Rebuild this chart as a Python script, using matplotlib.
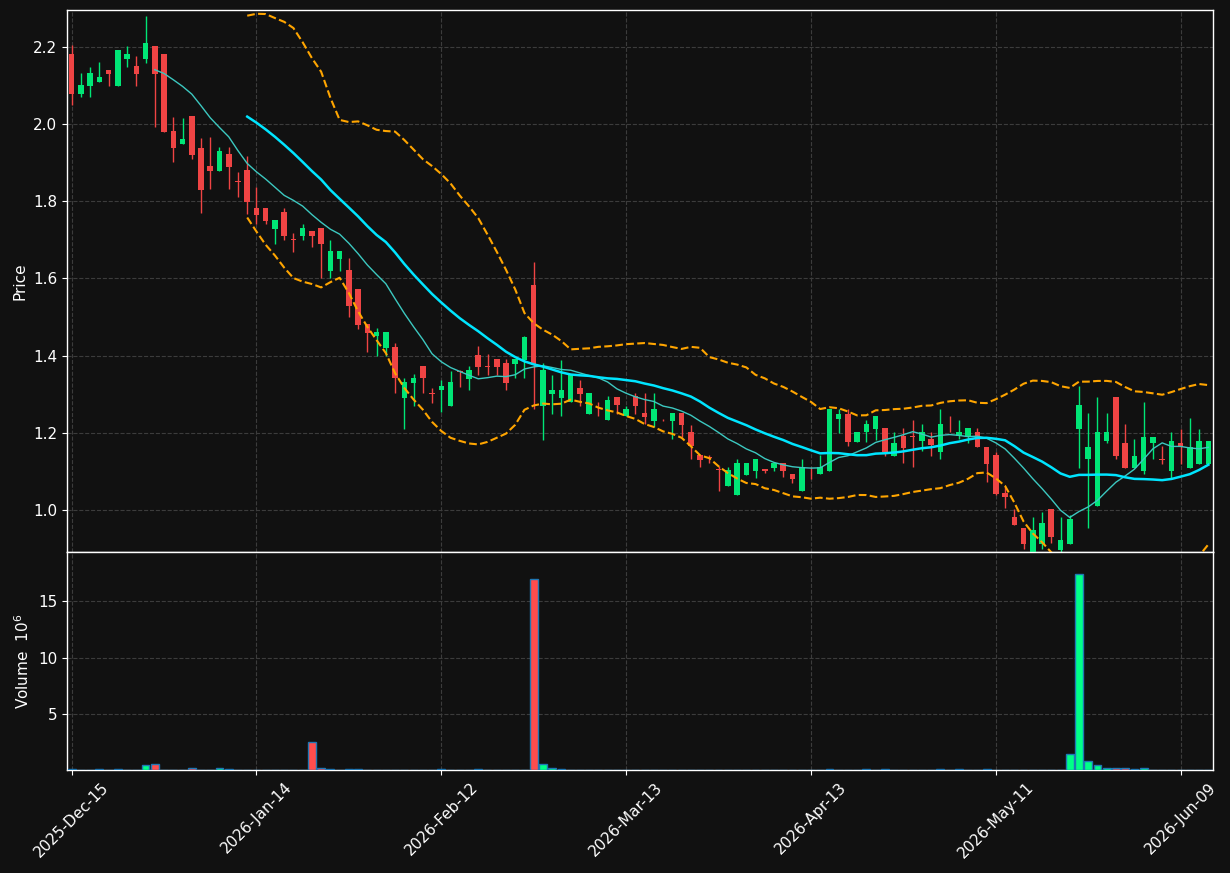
import numpy as np
import pandas as pd
import matplotlib
matplotlib.use("Agg")
import matplotlib.pyplot as plt

# ---------------- data ----------------
opens = [2.182, 2.079, 2.100, 2.110, 2.140, 2.100, 2.170, 2.151, 2.170, 2.203,
         2.182, 1.982, 1.949, 2.021, 1.938, 1.892, 1.879, 1.923, 1.852, 1.881,
         1.783, 1.783, 1.729, 1.772, 1.702, 1.710, 1.723, 1.731, 1.620, 1.651,
         1.622, 1.572, 1.483, 1.450, 1.421, 1.423, 1.291, 1.330, 1.373, 1.302,
         1.310, 1.270, 1.361, 1.340, 1.401, 1.372, 1.391, 1.381, 1.378, 1.389,
         1.583, 1.270, 1.300, 1.291, 1.281, 1.316, 1.250, 1.273, 1.234, 1.293,
         1.244, 1.295, 1.251, 1.231, 1.234, 1.230, 1.251, 1.202, 1.143, 1.136,
         1.106, 1.061, 1.040, 1.091, 1.102, 1.105, 1.109, 1.121, 1.093, 1.050,
         1.094, 1.092, 1.102, 1.237, 1.249, 1.177, 1.201, 1.210, 1.212, 1.140,
         1.192, 1.191, 1.180, 1.183, 1.151, 1.224, 1.191, 1.191, 1.202, 1.164,
         1.142, 1.044, 0.981, 0.953, 0.890, 0.911, 1.002, 0.895, 0.911, 1.210,
         1.131, 1.011, 1.179, 1.292, 1.173, 1.110, 1.101, 1.173, 1.131, 1.101,
         1.173, 1.110, 1.120, 1.120]
highs = [2.205, 2.132, 2.149, 2.160, 2.140, 2.192, 2.203, 2.177, 2.280, 2.203,
         2.182, 2.019, 2.015, 2.021, 1.963, 1.968, 1.941, 1.941, 1.875, 1.917,
         1.838, 1.783, 1.752, 1.782, 1.717, 1.741, 1.723, 1.731, 1.701, 1.671,
         1.652, 1.572, 1.483, 1.472, 1.462, 1.432, 1.342, 1.352, 1.373, 1.315,
         1.336, 1.361, 1.362, 1.373, 1.426, 1.405, 1.391, 1.391, 1.391, 1.451,
         1.642, 1.380, 1.351, 1.390, 1.352, 1.338, 1.302, 1.281, 1.296, 1.293,
         1.270, 1.302, 1.302, 1.302, 1.236, 1.251, 1.251, 1.219, 1.143, 1.143,
         1.113, 1.111, 1.131, 1.121, 1.131, 1.105, 1.121, 1.121, 1.093, 1.131,
         1.111, 1.142, 1.261, 1.261, 1.261, 1.202, 1.233, 1.244, 1.212, 1.202,
         1.212, 1.233, 1.223, 1.201, 1.261, 1.244, 1.233, 1.212, 1.212, 1.164,
         1.151, 1.061, 1.002, 0.953, 0.981, 0.995, 1.002, 0.981, 0.986, 1.321,
         1.251, 1.292, 1.251, 1.292, 1.223, 1.184, 1.280, 1.190, 1.165, 1.202,
         1.211, 1.238, 1.211, 1.180]
lows = [2.050, 2.070, 2.070, 2.110, 2.100, 2.100, 2.149, 2.100, 2.159, 1.992,
        1.981, 1.901, 1.949, 1.911, 1.771, 1.831, 1.879, 1.831, 1.810, 1.768,
        1.741, 1.741, 1.690, 1.701, 1.669, 1.701, 1.681, 1.602, 1.602, 1.620,
        1.501, 1.470, 1.410, 1.400, 1.400, 1.302, 1.209, 1.270, 1.302, 1.276,
        1.255, 1.270, 1.320, 1.311, 1.350, 1.350, 1.350, 1.311, 1.341, 1.341,
        1.262, 1.181, 1.250, 1.243, 1.281, 1.270, 1.250, 1.243, 1.234, 1.250,
        1.244, 1.250, 1.224, 1.214, 1.230, 1.184, 1.189, 1.131, 1.111, 1.121,
        1.050, 1.061, 1.040, 1.091, 1.082, 1.097, 1.102, 1.085, 1.071, 1.050,
        1.081, 1.092, 1.102, 1.200, 1.166, 1.177, 1.177, 1.182, 1.141, 1.140,
        1.121, 1.111, 1.152, 1.141, 1.131, 1.202, 1.183, 1.173, 1.162, 1.073,
        1.040, 1.004, 0.961, 0.900, 0.880, 0.900, 0.914, 0.890, 0.911, 1.110,
        0.953, 1.011, 1.173, 1.131, 1.110, 1.110, 1.093, 1.131, 1.120, 1.084,
        1.120, 1.110, 1.120, 1.120]
closes = [2.079, 2.101, 2.133, 2.122, 2.131, 2.192, 2.182, 2.131, 2.210, 2.131,
          1.981, 1.939, 1.962, 1.921, 1.830, 1.879, 1.930, 1.890, 1.850, 1.799,
          1.765, 1.750, 1.752, 1.710, 1.700, 1.730, 1.710, 1.690, 1.671, 1.671,
          1.529, 1.480, 1.459, 1.462, 1.462, 1.341, 1.332, 1.342, 1.341, 1.300,
          1.322, 1.331, 1.358, 1.362, 1.371, 1.370, 1.371, 1.330, 1.391, 1.448,
          1.376, 1.362, 1.311, 1.311, 1.352, 1.300, 1.302, 1.271, 1.284, 1.271,
          1.261, 1.270, 1.240, 1.261, 1.232, 1.251, 1.221, 1.165, 1.130, 1.134,
          1.104, 1.104, 1.121, 1.121, 1.131, 1.101, 1.121, 1.102, 1.081, 1.111,
          1.092, 1.111, 1.261, 1.249, 1.177, 1.202, 1.223, 1.244, 1.150, 1.173,
          1.161, 1.189, 1.201, 1.168, 1.223, 1.222, 1.202, 1.212, 1.162, 1.119,
          1.041, 1.033, 0.961, 0.911, 0.948, 0.966, 0.929, 0.922, 0.976, 1.272,
          1.162, 1.202, 1.202, 1.141, 1.110, 1.141, 1.190, 1.190, 1.129, 1.180,
          1.162, 1.162, 1.180, 1.180]
volume_millions = [0.05, 0, 0, 0.05, 0, 0.05, 0, 0, 0.44, 0.50,
                   0.03, 0.03, 0.03, 0.15, 0.03, 0.03, 0.15, 0.05, 0, 0.03,
                   0.03, 0, 0, 0.03, 0.03, 0, 2.46, 0.15, 0.05, 0,
                   0.05, 0.05, 0, 0, 0, 0.03, 0.03, 0, 0, 0,
                   0.05, 0, 0, 0, 0.05, 0, 0, 0, 0, 0,
                   17.0, 0.50, 0.15, 0.05, 0, 0, 0, 0, 0, 0,
                   0, 0, 0, 0, 0, 0.03, 0.03, 0.03, 0, 0,
                   0, 0, 0, 0, 0, 0, 0, 0, 0, 0,
                   0, 0, 0.05, 0, 0.03, 0, 0.05, 0, 0.05, 0,
                   0, 0, 0, 0, 0.05, 0, 0.05, 0, 0, 0.05,
                   0, 0, 0, 0, 0, 0, 0, 0, 1.39, 17.46,
                   0.77, 0.41, 0.15, 0.15, 0.15, 0.05, 0.15, 0.03, 0.03, 0.03,
                   0.03, 0.03, 0.03, 0]
tick_positions = [0, 20, 40, 60, 80, 100, 120]
tick_labels = ["2025-Dec-15", "2026-Jan-14", "2026-Feb-12", "2026-Mar-13",
               "2026-Apr-13", "2026-May-11", "2026-Jun-09"]
price_ticks = [1.0, 1.2, 1.4, 1.6, 1.8, 2.0, 2.2]
volume_ticks = [5, 10, 15]

# ---------------- styling ----------------
BG = "#111111"
UP = "#00e676"
DOWN = "#ef4444"
VUP = "#00ff88"
VDOWN = "#ff4d4d"
GRID = "#3c3c3c"

df = pd.DataFrame({"open": opens, "high": highs, "low": lows,
                   "close": closes, "volume": volume_millions})
x = np.arange(len(df))
ma10 = df["close"].rolling(10).mean()
ma20 = df["close"].rolling(20).mean()
sd20 = df["close"].rolling(20).std(ddof=0)
upper = ma20 + 2 * sd20
lower = ma20 - 2 * sd20
up = df["close"] >= df["open"]

fig = plt.figure(figsize=(12.3, 8.73), dpi=100, facecolor=BG)
ax = fig.add_axes([67 / 1230, 1 - 552 / 873, (1213 - 67) / 1230, (552 - 10) / 873])
axv = fig.add_axes([67 / 1230, 1 - 770 / 873, (1213 - 67) / 1230, (770 - 552) / 873],
                   sharex=ax)

for a in (ax, axv):
    a.set_facecolor(BG)
    for s in a.spines.values():
        s.set_color("white")
        s.set_linewidth(1.0)
    a.tick_params(colors="white", labelsize=11)
    a.grid(True, color=GRID, linestyle="--", linewidth=0.8)
    a.set_axisbelow(True)

# candles
cols = np.where(up, UP, DOWN)
ax.vlines(x, df["low"], df["high"], colors=cols, linewidth=1.0, zorder=2)
body_h = (df["close"] - df["open"]).abs().clip(lower=0.0015)
body_b = np.minimum(df["open"], df["close"])
ax.bar(x, body_h, bottom=body_b, width=0.6, color=cols, linewidth=0, zorder=3)

# overlays
ax.plot(x, ma10, color="#3cc8c0", linewidth=1.0, zorder=4)
ax.plot(x, ma20, color="#00e5ff", linewidth=1.8, zorder=4)
ax.plot(x, upper, color="#ffa500", linewidth=1.5, linestyle="--", zorder=4)
ax.plot(x, lower, color="#ffa500", linewidth=1.5, linestyle="--", zorder=4)

ax.set_ylim(0.891, 2.296)
ax.set_yticks(price_ticks)
ax.set_yticklabels([f"{v:.1f}" for v in price_ticks])
ax.set_ylabel("Price", color="white", fontsize=11)
ax.tick_params(axis="x", labelbottom=False)

# volume
vcols = np.where(up, VUP, VDOWN)
axv.bar(x, df["volume"], width=0.85, color=vcols, edgecolor="#1f77b4",
        linewidth=1.0, zorder=3)
axv.set_ylim(0, 19.4)
axv.set_yticks(volume_ticks)
axv.set_ylabel("Volume  $10^{6}$", color="white", fontsize=11)

axv.set_xlim(-0.5, 123.5)
axv.set_xticks(tick_positions)
axv.set_xticklabels(tick_labels, rotation=45, ha="center")

fig.savefig("out.png", dpi=100, facecolor=BG)
